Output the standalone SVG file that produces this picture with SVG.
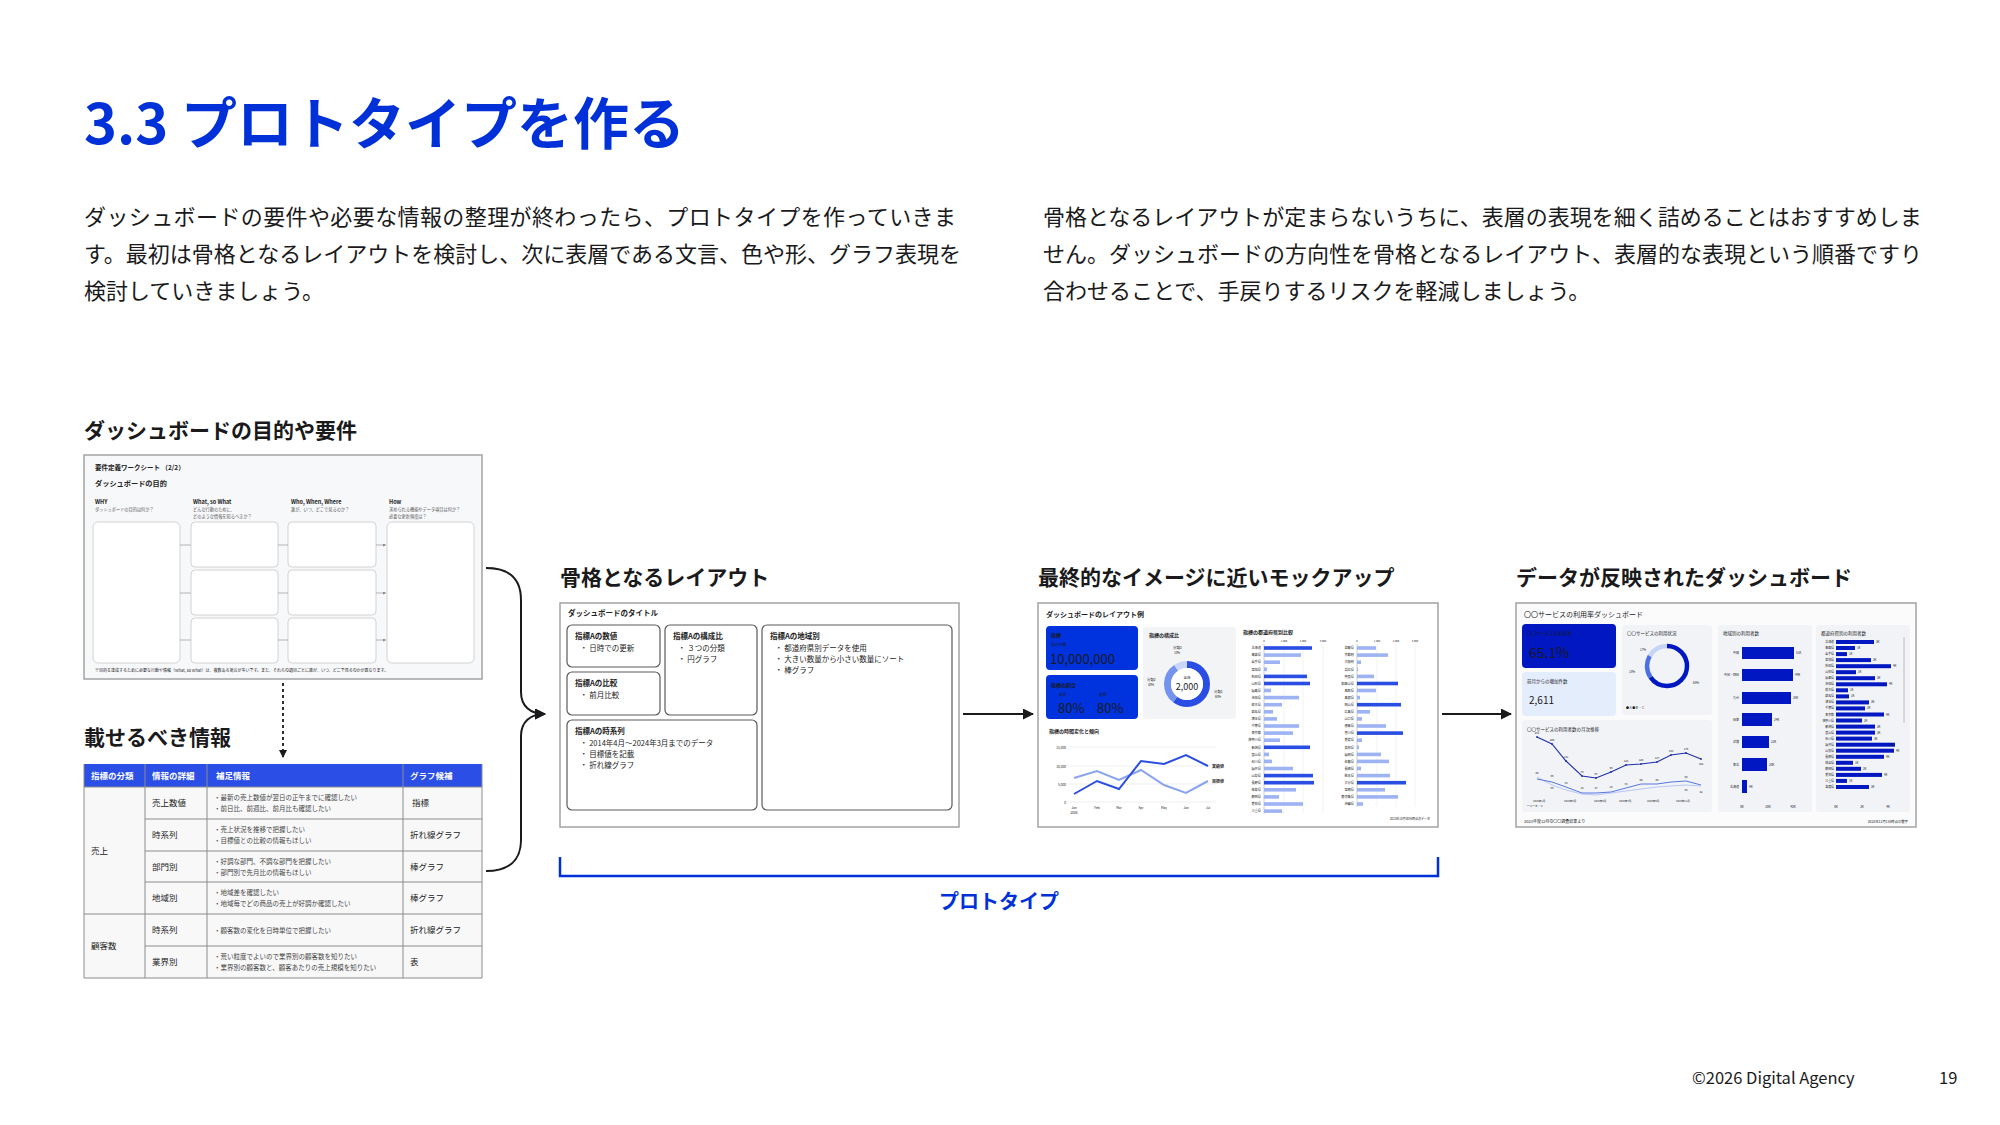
<svg xmlns="http://www.w3.org/2000/svg" width="2000" height="1125" viewBox="0 0 2000 1125">
<defs>
<style>
text{font-family:"Noto Sans CJK JP","Noto Sans",sans-serif;fill:#1a1a1c}
.title{font-size:56px;font-weight:700;fill:#0031d8}
.body{font-size:22px;font-weight:400;fill:#1a1a1c}
.h2{font-size:21px;font-weight:700;fill:#1a1a1c}
.foot{font-size:16.5px;fill:#1a1a1c}
.proto{font-size:20px;font-weight:700;fill:#0031d8}
.conn{fill:none;stroke:#1a1a1c;stroke-width:2}
.thumbframe{stroke:#a3a3a3;stroke-width:1.5}
.ws-b{fill:#fff;stroke:#c8c8c8;stroke-width:0.8}
.ws-t{font-weight:700;fill:#222}
.ws-s{font-size:4.2px;fill:#555}
.tb-line{stroke:#8c8c8c;stroke-width:1}
.tb-h{font-size:8.5px;font-weight:700;fill:#fff}
.tb-d{font-size:8.5px;fill:#222}
.tb-s{font-size:6.5px;fill:#444}
.lc{fill:#fff;stroke:#5a5a5a;stroke-width:1.2}
.lh{font-size:7.5px;font-weight:700;fill:#222}
.lb{font-size:7.5px;fill:#222}
.mk{font-size:3.2px;fill:#444}
.mkb{fill:#2a4de3}
.mkl{fill:#9db3f3}
.db{fill:#0017c1}
.dbt{font-size:2.9px;fill:#444}
.panel{fill:#f1f3f7}
</style>
<marker id="arr" markerUnits="userSpaceOnUse" markerWidth="11" markerHeight="11" refX="10" refY="5.5" orient="auto">
<path d="M0,0 L11,5.5 L0,11 z" fill="#1a1a1c"/>
</marker>
<marker id="arrs" markerUnits="userSpaceOnUse" markerWidth="8" markerHeight="8" refX="7" refY="4" orient="auto">
<path d="M0,0 L8,4 L0,8 z" fill="#1a1a1c"/>
</marker>
<marker id="arrt" markerUnits="userSpaceOnUse" markerWidth="3" markerHeight="3" refX="3" refY="1.5" orient="auto">
<path d="M0,0 L3,1.5 L0,3 z" fill="#888"/>
</marker>
</defs>
<rect width="2000" height="1125" fill="#fff"/>

<g id="heading">
<text class="title" x="84" y="144">3.3 プロトタイプを作る</text>
</g>
<g id="intro-left">
<text class="body" x="84" y="225" textLength="872" lengthAdjust="spacing">ダッシュボードの要件や必要な情報の整理が終わったら、プロトタイプを作っていきま</text>
<text class="body" x="84" y="262">す。最初は骨格となるレイアウトを検討し、次に表層である文言、色や形、グラフ表現を</text>
<text class="body" x="84" y="299">検討していきましょう。</text>
</g>
<g id="intro-right">
<text class="body" x="1043" y="225">骨格となるレイアウトが定まらないうちに、表層の表現を細く詰めることはおすすめしま</text>
<text class="body" x="1043" y="262">せん。ダッシュボードの方向性を骨格となるレイアウト、表層的な表現という順番ですり</text>
<text class="body" x="1043" y="299">合わせることで、手戻りするリスクを軽減しましょう。</text>
</g>

<g id="worksheet">
<text class="h2" x="84" y="438">ダッシュボードの目的や要件</text>
<g transform="translate(84,455)">
<rect x="0" y="0" width="398" height="224" fill="#f7f8fa" class="thumbframe"/>
<text class="ws-t" x="11" y="15" font-size="6.5">要件定義ワークシート （2/2）</text>
<text class="ws-t" x="11" y="31" font-size="7.2">ダッシュボードの目的</text>
<text class="ws-t" x="11" y="49" font-size="5.5">WHY</text>
<text class="ws-t" x="109" y="49" font-size="5.5">What, so What</text>
<text class="ws-t" x="207" y="49" font-size="5.5">Who, When, Where</text>
<text class="ws-t" x="305" y="49" font-size="5.5">How</text>
<text class="ws-s" x="11" y="56">ダッシュボードの目的は何か？</text>
<text class="ws-s" x="109" y="56">どんな行動のために、</text>
<text class="ws-s" x="109" y="63">どのような情報を知るべきか？</text>
<text class="ws-s" x="207" y="56">誰が、いつ、どこで見るのか？</text>
<text class="ws-s" x="305" y="56">求められる機能やデータ項目は何か？</text>
<text class="ws-s" x="305" y="63">必要な更新頻度は？</text>
<rect class="ws-b" x="9" y="67" width="87" height="141" rx="5"/>
<rect class="ws-b" x="107" y="67" width="87" height="45" rx="4"/>
<rect class="ws-b" x="107" y="115" width="87" height="45" rx="4"/>
<rect class="ws-b" x="107" y="163" width="87" height="45" rx="4"/>
<rect class="ws-b" x="204" y="67" width="88" height="45" rx="4"/>
<rect class="ws-b" x="204" y="115" width="88" height="45" rx="4"/>
<rect class="ws-b" x="204" y="163" width="88" height="45" rx="4"/>
<rect class="ws-b" x="303" y="67" width="87" height="141" rx="5"/>
<g stroke="#999" stroke-width="0.7">
<line x1="96" y1="90" x2="107" y2="90"/><line x1="96" y1="138" x2="107" y2="138"/><line x1="96" y1="185" x2="107" y2="185"/>
<line x1="194" y1="90" x2="204" y2="90"/><line x1="194" y1="138" x2="204" y2="138"/><line x1="194" y1="185" x2="204" y2="185"/>
<line x1="292" y1="90" x2="302" y2="90" marker-end="url(#arrt)"/><line x1="292" y1="138" x2="302" y2="138" marker-end="url(#arrt)"/><line x1="292" y1="185" x2="302" y2="185" marker-end="url(#arrt)"/>
</g>
<text x="11" y="217" font-size="4" fill="#999">※目的を達成するために必要な行動や情報（What, so What）は、複数ある場合が多いです。また、それらの項目ごとに誰が、いつ、どこで見るのかが異なります。</text>
</g>
</g>

<g id="info-table">
<text class="h2" x="84" y="745">載せるべき情報</text>
<rect x="84" y="787" width="398" height="191" fill="#f8f8f9"/>
<rect x="84" y="764" width="398" height="23" fill="#2a4ee6"/>
<text class="tb-h" x="91" y="778.5">指標の分類</text>
<text class="tb-h" x="152" y="778.5">情報の詳細</text>
<text class="tb-h" x="216" y="778.5">補足情報</text>
<text class="tb-h" x="410" y="778.5">グラフ候補</text>
<g class="tb-line">
<line x1="84" y1="764" x2="84" y2="978"/><line x1="145" y1="764" x2="145" y2="978"/><line x1="207" y1="764" x2="207" y2="978"/><line x1="403" y1="764" x2="403" y2="978"/><line x1="482" y1="764" x2="482" y2="978"/>
<line x1="84" y1="787" x2="482" y2="787"/>
<line x1="145" y1="819" x2="482" y2="819"/><line x1="145" y1="851" x2="482" y2="851"/><line x1="145" y1="882" x2="482" y2="882"/>
<line x1="84" y1="914" x2="482" y2="914"/><line x1="145" y1="946" x2="482" y2="946"/>
<line x1="84" y1="978" x2="482" y2="978"/>
</g>
<text class="tb-d" x="91" y="853.5">売上</text>
<text class="tb-d" x="91" y="949">顧客数</text>
<text class="tb-d" x="152" y="806">売上数値</text>
<text class="tb-d" x="152" y="838">時系列</text>
<text class="tb-d" x="152" y="869.5">部門別</text>
<text class="tb-d" x="152" y="901">地域別</text>
<text class="tb-d" x="152" y="933">時系列</text>
<text class="tb-d" x="152" y="965">業界別</text>
<text class="tb-s" x="214" y="800">・最新の売上数値が翌日の正午までに確認したい</text>
<text class="tb-s" x="214" y="811">・前日比、前週比、前月比も確認したい</text>
<text class="tb-s" x="214" y="832">・売上状況を推移で把握したい</text>
<text class="tb-s" x="214" y="843">・目標値との比較の情報もほしい</text>
<text class="tb-s" x="214" y="863.5">・好調な部門、不調な部門を把握したい</text>
<text class="tb-s" x="214" y="874.5">・部門別で先月比の情報もほしい</text>
<text class="tb-s" x="214" y="895">・地域差を確認したい</text>
<text class="tb-s" x="214" y="906">・地域毎でどの商品の売上が好調か確認したい</text>
<text class="tb-s" x="214" y="932.5">・顧客数の変化を日時単位で把握したい</text>
<text class="tb-s" x="214" y="959">・荒い粒度でよいので業界別の顧客数を知りたい</text>
<text class="tb-s" x="214" y="970">・業界別の顧客数と、顧客あたりの売上規模を知りたい</text>
<text class="tb-d" x="412" y="806">指標</text>
<text class="tb-d" x="410" y="838">折れ線グラフ</text>
<text class="tb-d" x="410" y="869.5">棒グラフ</text>
<text class="tb-d" x="410" y="901">棒グラフ</text>
<text class="tb-d" x="410" y="933">折れ線グラフ</text>
<text class="tb-d" x="410" y="965">表</text>
</g>

<g id="layout">
<text class="h2" x="560" y="585">骨格となるレイアウト</text>
<g transform="translate(560,603)">
<rect x="0" y="0" width="399" height="224" fill="#fff" class="thumbframe"/>
<text class="lh" x="8" y="13">ダッシュボードのタイトル</text>
<rect class="lc" x="7" y="22" width="93" height="42" rx="5"/>
<rect class="lc" x="7" y="69" width="93" height="43" rx="5"/>
<rect class="lc" x="105" y="22" width="92" height="90" rx="5"/>
<rect class="lc" x="7" y="117" width="190" height="90" rx="5"/>
<rect class="lc" x="202" y="22" width="190" height="185" rx="5"/>
<text class="lh" x="15" y="36">指標Aの数値</text>
<text class="lb" x="20" y="47.5">・ 日時での更新</text>
<text class="lh" x="15" y="83">指標Aの比較</text>
<text class="lb" x="20" y="94.5">・ 前月比較</text>
<text class="lh" x="113" y="36">指標Aの構成比</text>
<text class="lb" x="118" y="47.5">・ ３つの分類</text>
<text class="lb" x="118" y="58.5">・ 円グラフ</text>
<text class="lh" x="15" y="131">指標Aの時系列</text>
<text class="lb" x="20" y="142.5">・ 2014年4月～2024年3月までのデータ</text>
<text class="lb" x="20" y="153.5">・ 目標値を記載</text>
<text class="lb" x="20" y="164.5">・ 折れ線グラフ</text>
<text class="lh" x="210" y="36">指標Aの地域別</text>
<text class="lb" x="215" y="47.5">・ 都道府県別データを使用</text>
<text class="lb" x="215" y="58.5">・ 大きい数量から小さい数量にソート</text>
<text class="lb" x="215" y="69.5">・ 棒グラフ</text>
</g>
</g>

<g id="mockup">
<text class="h2" x="1038" y="585">最終的なイメージに近いモックアップ</text>
<g transform="translate(1038,603)">
<rect x="0" y="0" width="400" height="224" fill="#fff" class="thumbframe"/>
<text x="8" y="14" font-size="7" font-weight="700" fill="#333">ダッシュボードのレイアウト例</text>
<rect x="8" y="23" width="92" height="44" rx="4" fill="#0033dd"/>
<text x="13" y="34" font-size="5" font-weight="700" fill="#fff">指標</text>
<text x="13" y="43" font-size="3.8" fill="#fff">累計件数</text>
<text x="12" y="61" font-size="13" fill="#fff">10,000,000</text>
<rect x="8" y="72" width="92" height="44" rx="4" fill="#0033dd"/>
<text x="13" y="84" font-size="5" font-weight="700" fill="#fff">指標の割合</text>
<text x="21" y="93" font-size="3.8" fill="#fff">割合</text>
<text x="61" y="93" font-size="3.8" fill="#fff">前回</text>
<text x="20" y="110" font-size="13" fill="#fff">80%</text>
<text x="59" y="110" font-size="13" fill="#fff">80%</text>
<rect x="105" y="24" width="93" height="92" rx="3" fill="#f3f4f6"/>
<text x="111" y="34" font-size="5" font-weight="700" fill="#333">指標の構成比</text>
<g transform="rotate(-90 149 81)" fill="none" stroke-width="7">
<circle cx="149" cy="81" r="19.5" stroke="#2a4de3" stroke-dasharray="73.51 122.52"/>
<circle cx="149" cy="81" r="19.5" stroke="#7393ef" stroke-dasharray="0 73.51 36.76 122.52"/>
<circle cx="149" cy="81" r="19.5" stroke="#c9d6f8" stroke-dasharray="0 110.27 12.25 122.52"/>
</g>
<circle cx="149" cy="81" r="16" fill="#fff"/>
<text x="149" y="76" font-size="3.6" text-anchor="middle" fill="#333">全体</text>
<text x="149" y="86.5" font-size="9" text-anchor="middle" fill="#222">2,000</text>
<text x="135" y="46" font-size="3.4" fill="#444">分類3</text><text x="136" y="51" font-size="3" fill="#666">10%</text>
<text x="109" y="78" font-size="3.4" fill="#444">分類2</text><text x="110" y="83" font-size="3" fill="#666">30%</text>
<text x="176" y="90" font-size="3.4" fill="#444">分類1</text><text x="177" y="95" font-size="3" fill="#666">60%</text>
<text x="11" y="130" font-size="5" font-weight="700" fill="#333">指標の時間変化と傾向</text>
<g stroke="#e2e2e2" stroke-width="0.6">
<line x1="30" y1="144" x2="178" y2="144"/><line x1="30" y1="163" x2="178" y2="163"/><line x1="30" y1="181" x2="178" y2="181"/><line x1="30" y1="199" x2="178" y2="199"/>
</g>
<g font-size="3.2" fill="#555" text-anchor="end">
<text x="28" y="145.5">15,000</text><text x="28" y="164.5">10,000</text><text x="28" y="182.5">5,000</text><text x="28" y="200.5">0</text>
</g>
<g font-size="3.2" fill="#555" text-anchor="middle">
<text x="36" y="206">Jan</text><text x="59" y="206">Feb</text><text x="81" y="206">Mar</text><text x="103" y="206">Apr</text><text x="126" y="206">May</text><text x="148" y="206">Jun</text><text x="170" y="206">Jul</text>
<text x="36" y="211">2026</text>
</g>
<polyline fill="none" stroke="#8aa3f0" stroke-width="2" points="36,175 59,168 81,177 103,167 126,182 148,190 170,178"/>
<polyline fill="none" stroke="#2a4de3" stroke-width="2" points="36,191 59,178 81,186 103,158 126,161 148,152 170,163"/>
<text x="174" y="165" font-size="4" font-weight="700" fill="#1a3ad8">実績値</text>
<text x="174" y="180" font-size="4" font-weight="700" fill="#1a3ad8">目標値</text>
<text x="205" y="31" font-size="5" font-weight="700" fill="#333">指標の都道府県別比較</text>
<g stroke="#e4e4e4" stroke-width="0.5">
<line x1="246" y1="41" x2="246" y2="211"/><line x1="265" y1="41" x2="265" y2="211"/><line x1="285" y1="41" x2="285" y2="211"/>
<line x1="339" y1="41" x2="339" y2="204"/><line x1="358" y1="41" x2="358" y2="204"/><line x1="377" y1="41" x2="377" y2="204"/>
</g>
<g stroke="#999" stroke-width="0.5"><line x1="226" y1="41" x2="226" y2="211"/><line x1="319" y1="41" x2="319" y2="204"/></g>
<g font-size="2.6" fill="#666" text-anchor="middle">
<text x="226" y="39">0</text><text x="246" y="39">1,000</text><text x="265" y="39">2,000</text><text x="285" y="39">3,000</text>
<text x="319" y="39">0</text><text x="339" y="39">1,000</text><text x="358" y="39">2,000</text><text x="377" y="39">3,000</text>
</g>
<g class="mk" text-anchor="end">
<text x="223" y="46.2">北海道</text><text x="223" y="53.3">青森県</text><text x="223" y="60.4">岩手県</text><text x="223" y="67.5">宮城県</text><text x="223" y="74.6">秋田県</text><text x="223" y="81.7">山形県</text><text x="223" y="88.7">福島県</text><text x="223" y="95.8">茨城県</text><text x="223" y="102.9">栃木県</text><text x="223" y="110">群馬県</text><text x="223" y="117.1">埼玉県</text><text x="223" y="124.2">千葉県</text><text x="223" y="131.3">東京都</text><text x="223" y="138.4">神奈川県</text><text x="223" y="145.5">新潟県</text><text x="223" y="152.6">富山県</text><text x="223" y="159.6">石川県</text><text x="223" y="166.7">福井県</text><text x="223" y="173.8">山梨県</text><text x="223" y="180.9">長野県</text><text x="223" y="188">岐阜県</text><text x="223" y="195.1">静岡県</text><text x="223" y="202.2">愛知県</text><text x="223" y="209.3">三重県</text>
<text x="316" y="46.2">滋賀県</text><text x="316" y="53.3">京都府</text><text x="316" y="60.4">大阪府</text><text x="316" y="67.5">兵庫県</text><text x="316" y="74.6">奈良県</text><text x="316" y="81.7">和歌山県</text><text x="316" y="88.7">鳥取県</text><text x="316" y="95.8">島根県</text><text x="316" y="102.9">岡山県</text><text x="316" y="110">広島県</text><text x="316" y="117.1">山口県</text><text x="316" y="124.2">徳島県</text><text x="316" y="131.3">香川県</text><text x="316" y="138.4">愛媛県</text><text x="316" y="145.5">高知県</text><text x="316" y="152.6">福岡県</text><text x="316" y="159.6">佐賀県</text><text x="316" y="166.7">長崎県</text><text x="316" y="173.8">熊本県</text><text x="316" y="180.9">大分県</text><text x="316" y="188">宮崎県</text><text x="316" y="195.1">鹿児島県</text><text x="316" y="202.2">沖縄県</text>
</g>
<g>
<rect class="mkb" x="226" y="43.2" width="48" height="3.6"/>
<rect class="mkl" x="226" y="50.3" width="37" height="3.6"/>
<rect class="mkl" x="226" y="57.4" width="16" height="3.6"/>
<rect class="mkl" x="226" y="64.5" width="3" height="3.6"/>
<rect class="mkb" x="226" y="71.6" width="43" height="3.6"/>
<rect class="mkb" x="226" y="78.7" width="46" height="3.6"/>
<rect class="mkl" x="226" y="85.7" width="7" height="3.6"/>
<rect class="mkl" x="226" y="92.8" width="35" height="3.6"/>
<rect class="mkl" x="226" y="99.9" width="18" height="3.6"/>
<rect class="mkl" x="226" y="107" width="9" height="3.6"/>
<rect class="mkl" x="226" y="114.1" width="13" height="3.6"/>
<rect class="mkl" x="226" y="121.2" width="35" height="3.6"/>
<rect class="mkl" x="226" y="128.3" width="29" height="3.6"/>
<rect class="mkl" x="226" y="135.4" width="16" height="3.6"/>
<rect class="mkb" x="226" y="142.5" width="46" height="3.6"/>
<rect class="mkl" x="226" y="149.6" width="5" height="3.6"/>
<rect class="mkl" x="226" y="156.6" width="8" height="3.6"/>
<rect class="mkl" x="226" y="163.7" width="29" height="3.6"/>
<rect class="mkb" x="226" y="170.8" width="49" height="3.6"/>
<rect class="mkb" x="226" y="177.9" width="50" height="3.6"/>
<rect class="mkl" x="226" y="185" width="32" height="3.6"/>
<rect class="mkl" x="226" y="192.1" width="15" height="3.6"/>
<rect class="mkl" x="226" y="199.2" width="39" height="3.6"/>
<rect class="mkl" x="226" y="206.3" width="18" height="3.6"/>
<rect class="mkl" x="319" y="43.2" width="19" height="3.6"/>
<rect class="mkl" x="319" y="50.3" width="31" height="3.6"/>
<rect class="mkl" x="319" y="57.4" width="4" height="3.6"/>
<rect class="mkl" x="319" y="64.5" width="1" height="3.6"/>
<rect class="mkl" x="319" y="71.6" width="17" height="3.6"/>
<rect class="mkb" x="319" y="78.7" width="41" height="3.6"/>
<rect class="mkl" x="319" y="85.7" width="19" height="3.6"/>
<rect class="mkl" x="319" y="92.8" width="3" height="3.6"/>
<rect class="mkb" x="319" y="99.9" width="44" height="3.6"/>
<rect class="mkl" x="319" y="107" width="13" height="3.6"/>
<rect class="mkl" x="319" y="114.1" width="5" height="3.6"/>
<rect class="mkl" x="319" y="121.2" width="29" height="3.6"/>
<rect class="mkb" x="319" y="128.3" width="46" height="3.6"/>
<rect class="mkl" x="319" y="135.4" width="5" height="3.6"/>
<rect class="mkl" x="319" y="142.5" width="2" height="3.6"/>
<rect class="mkl" x="319" y="149.6" width="24" height="3.6"/>
<rect class="mkl" x="319" y="156.6" width="32" height="3.6"/>
<rect class="mkl" x="319" y="163.7" width="4" height="3.6"/>
<rect class="mkl" x="319" y="170.8" width="33" height="3.6"/>
<rect class="mkb" x="319" y="177.9" width="49" height="3.6"/>
<rect class="mkl" x="319" y="185" width="28" height="3.6"/>
<rect class="mkl" x="319" y="192.1" width="41" height="3.6"/>
<rect class="mkl" x="319" y="199.2" width="6" height="3.6"/>
</g>
<text x="392" y="217" font-size="3" fill="#777" text-anchor="end">2023年10月30日時点のデータ</text>
</g>
</g>

<g id="dashboard">
<text class="h2" x="1516" y="585">データが反映されたダッシュボード</text>
<g transform="translate(1516,603)">
<rect x="0" y="0" width="400" height="224" fill="#fbfbfc" class="thumbframe"/>
<text x="8" y="14" font-size="7" fill="#222">〇〇サービスの利用率ダッシュボード</text>
<rect x="6" y="21" width="94" height="44" rx="4" fill="#0017c1"/>
<text x="11" y="32" font-size="4.5" fill="#fff">〇〇サービスの利用率</text>
<text x="13" y="55" font-size="14" fill="#fff">65.1%</text>
<rect x="6" y="69" width="94" height="44" rx="4" fill="#e4edfc"/>
<text x="11" y="80" font-size="4.5" fill="#333">前月からの増加件数</text>
<text x="13" y="101" font-size="10" fill="#1f33b8">2,611</text>
<rect class="panel" x="106" y="22" width="90" height="90" rx="3"/>
<text x="111" y="32" font-size="4.5" fill="#333">〇〇サービスの利用状況</text>
<g transform="rotate(-90 151 63)" fill="none" stroke-width="4.5">
<circle cx="151" cy="63" r="20" stroke="#0017c1" stroke-dasharray="81.68 125.66"/>
<circle cx="151" cy="63" r="20" stroke="#4d6fe3" stroke-dasharray="0 81.68 22.62 125.66"/>
<circle cx="151" cy="63" r="20" stroke="#c5d3f7" stroke-dasharray="0 104.3 21.36 125.66"/>
</g>
<g font-size="3" fill="#555">
<text x="124" y="48">17%</text><text x="113" y="70">18%</text><text x="177" y="81">65%</text>
<text x="110" y="106">● A ● B ・ C</text>
</g>
<rect class="panel" x="6" y="117" width="190" height="92" rx="3"/>
<text x="11" y="128" font-size="4.5" fill="#333">〇〇サービスの利用者数の月次推移</text>
<polyline fill="none" stroke="#b9c8f3" stroke-width="1" points="21,174 36,182 50,187 66,191 80,192 95,190 110,188 125,186 141,184 155,183 170,182 185,183"/>
<polyline fill="none" stroke="#5676e0" stroke-width="1" points="21,176 36,179 50,184 66,190 80,190 95,189 110,185 125,181 141,181 155,179 170,178 185,182"/>
<polyline fill="none" stroke="#1f2fa8" stroke-width="1.1" points="21,134 36,141 50,158 66,173 80,175 95,169 110,162 125,161 141,159 155,152 170,150 185,156"/>
<g fill="#1f2fa8">
<circle cx="21" cy="134" r="0.9"/><circle cx="36" cy="141" r="0.9"/><circle cx="50" cy="158" r="0.9"/><circle cx="66" cy="173" r="0.9"/><circle cx="80" cy="175" r="0.9"/><circle cx="95" cy="169" r="0.9"/><circle cx="110" cy="162" r="0.9"/><circle cx="125" cy="161" r="0.9"/><circle cx="141" cy="159" r="0.9"/><circle cx="155" cy="152" r="0.9"/><circle cx="170" cy="150" r="0.9"/><circle cx="185" cy="156" r="0.9"/>
</g>
<g font-size="2.8" fill="#666" text-anchor="middle">
<text x="21" y="131">231</text><text x="36" y="138">205</text><text x="50" y="155">141</text><text x="66" y="170">76</text><text x="80" y="172">67</text><text x="95" y="166">99</text><text x="110" y="159">124</text><text x="125" y="158">125</text><text x="141" y="156">137</text><text x="155" y="149">164</text><text x="170" y="147">175</text><text x="185" y="162">152</text>
<text x="21" y="171">88</text><text x="36" y="174">56</text><text x="50" y="181">34</text><text x="36" y="186">56</text><text x="66" y="186">15</text><text x="80" y="186">47</text><text x="95" y="185">15</text><text x="110" y="182">33</text><text x="125" y="178">50</text><text x="141" y="178">55</text><text x="170" y="175">58</text><text x="170" y="188">53</text><text x="185" y="190">42</text>
</g>
<g font-size="2.6" fill="#555">
<text x="17" y="199">2023年1月</text><text x="48" y="199">2023年3月</text><text x="78" y="199">2023年5月</text><text x="103" y="199">2023年7月</text><text x="131" y="199">2023年9月</text><text x="160" y="199">2023年11月</text>
<text x="11" y="204">━ A ━ B ─ C</text>
</g>
<rect class="panel" x="202" y="22" width="94" height="187" rx="3"/>
<text x="207" y="32" font-size="4.5" fill="#333">地域別の利用者数</text>
<g class="db">
<rect x="226" y="44" width="52" height="12"/>
<rect x="226" y="66" width="51" height="12"/>
<rect x="226" y="89" width="49" height="12"/>
<rect x="226" y="110" width="30" height="13"/>
<rect x="226" y="133" width="27" height="12"/>
<rect x="226" y="155" width="25" height="13"/>
<rect x="226" y="177" width="5" height="13"/>
</g>
<g font-size="3" fill="#555" text-anchor="end">
<text x="223" y="51">中部</text><text x="223" y="73">中国・四国</text><text x="223" y="96">九州</text><text x="223" y="117.5">関東</text><text x="223" y="140">近畿</text><text x="223" y="162.5">東北</text><text x="223" y="184.5">北海道</text>
</g>
<g font-size="3" fill="#555">
<text x="280" y="51">51K</text><text x="279" y="73">49K</text><text x="277" y="96">38K</text><text x="258" y="117.5">24K</text><text x="255" y="140">22K</text><text x="253" y="162.5">20K</text><text x="233" y="184.5">4K</text>
</g>
<g font-size="3" fill="#555" text-anchor="middle">
<text x="226" y="205">0K</text><text x="252" y="205">20K</text><text x="277" y="205">40K</text>
</g>
<rect class="panel" x="300" y="22" width="94" height="187" rx="3"/>
<text x="305" y="32" font-size="4.5" fill="#333">都道府県別の利用者数</text>
<line x1="388" y1="34" x2="388" y2="120" stroke="#cfcfcf" stroke-width="1.5"/>
<g class="db">
<rect x="320" y="37" width="38" height="4"/>
<rect x="320" y="43" width="19" height="4"/>
<rect x="320" y="49.1" width="11" height="4"/>
<rect x="320" y="55.1" width="35" height="4"/>
<rect x="320" y="61.2" width="55" height="4"/>
<rect x="320" y="67.2" width="20" height="4"/>
<rect x="320" y="73.2" width="39" height="4"/>
<rect x="320" y="79.3" width="51" height="4"/>
<rect x="320" y="85.3" width="12" height="4"/>
<rect x="320" y="91.4" width="13" height="4"/>
<rect x="320" y="97.4" width="33" height="4"/>
<rect x="320" y="103.4" width="29" height="4"/>
<rect x="320" y="109.5" width="48" height="4"/>
<rect x="320" y="115.5" width="26" height="4"/>
<rect x="320" y="121.6" width="39" height="4"/>
<rect x="320" y="127.6" width="39" height="4"/>
<rect x="320" y="133.6" width="36" height="4"/>
<rect x="320" y="139.7" width="59" height="4"/>
<rect x="320" y="145.7" width="58" height="4"/>
<rect x="320" y="151.8" width="48" height="4"/>
<rect x="320" y="157.8" width="17" height="4"/>
<rect x="320" y="163.8" width="25" height="4"/>
<rect x="320" y="169.9" width="46" height="4"/>
<rect x="320" y="175.9" width="11" height="4"/>
<rect x="320" y="182" width="33" height="4"/>
</g>
<g class="dbt" text-anchor="end">
<text x="318" y="40">北海道</text><text x="318" y="46">青森県</text><text x="318" y="52.1">岩手県</text><text x="318" y="58.1">宮城県</text><text x="318" y="64.2">秋田県</text><text x="318" y="70.2">山形県</text><text x="318" y="76.2">福島県</text><text x="318" y="82.3">茨城県</text><text x="318" y="88.3">栃木県</text><text x="318" y="94.4">群馬県</text><text x="318" y="100.4">埼玉県</text><text x="318" y="106.4">千葉県</text><text x="318" y="112.5">東京都</text><text x="318" y="118.5">神奈川県</text><text x="318" y="124.6">新潟県</text><text x="318" y="130.6">富山県</text><text x="318" y="136.6">石川県</text><text x="318" y="142.7">福井県</text><text x="318" y="148.7">山梨県</text><text x="318" y="154.8">長野県</text><text x="318" y="160.8">岐阜県</text><text x="318" y="166.8">静岡県</text><text x="318" y="172.9">愛知県</text><text x="318" y="178.9">三重県</text><text x="318" y="185">滋賀県</text>
</g>
<g class="dbt">
<text x="360" y="40">3K</text><text x="341" y="46">1K</text><text x="333" y="52.1">1K</text><text x="357" y="58.1">3K</text><text x="377" y="64.2">4K</text><text x="342" y="70.2">1K</text><text x="361" y="76.2">3K</text><text x="373" y="82.3">4K</text><text x="334" y="88.3">1K</text><text x="335" y="94.4">1K</text><text x="355" y="100.4">3K</text><text x="351" y="106.4">2K</text><text x="370" y="112.5">4K</text><text x="348" y="118.5">2K</text><text x="361" y="124.6">3K</text><text x="361" y="130.6">3K</text><text x="358" y="136.6">3K</text><text x="374" y="142.7" fill="#fff">5K</text><text x="380" y="148.7">4K</text><text x="370" y="154.8">4K</text><text x="339" y="160.8">1K</text><text x="347" y="166.8">2K</text><text x="368" y="172.9">4K</text><text x="333" y="178.9">1K</text><text x="355" y="185">3K</text>
</g>
<g font-size="3" fill="#555" text-anchor="middle">
<text x="320" y="205">0K</text><text x="346" y="205">2K</text><text x="372" y="205">4K</text>
</g>
<text x="8" y="220" font-size="4" fill="#444">2023年度12月の〇〇調査結果より</text>
<text x="392" y="220" font-size="3.4" fill="#777" text-anchor="end">2023年12月1日時点の数字</text>
</g>
</g>

<g id="connectors">
<path class="conn" d="M486,568 C508,568 521,578 521,600 V692 C521,706 530,714 545,714" marker-end="url(#arr)"/>
<path class="conn" d="M486,871 C508,871 521,861 521,840 V736 C521,722 530,714 545,714" marker-end="url(#arr)"/>
<line x1="283" y1="683" x2="283" y2="757" stroke="#1a1a1c" stroke-width="1.8" stroke-dasharray="3 3" marker-end="url(#arrs)"/>
<line class="conn" x1="963" y1="714" x2="1033" y2="714" marker-end="url(#arr)"/>
<line class="conn" x1="1442" y1="714" x2="1511" y2="714" marker-end="url(#arr)"/>
</g>

<g id="prototype-bracket">
<path d="M560,857 V876 H1438 V857" fill="none" stroke="#0031d8" stroke-width="2.5"/>
<text class="proto" x="999" y="909" text-anchor="middle">プロトタイプ</text>
</g>

<g id="footer">
<text class="foot" x="1692" y="1084">©2026 Digital Agency</text>
<text class="foot" x="1939" y="1084">19</text>
</g>
</svg>
